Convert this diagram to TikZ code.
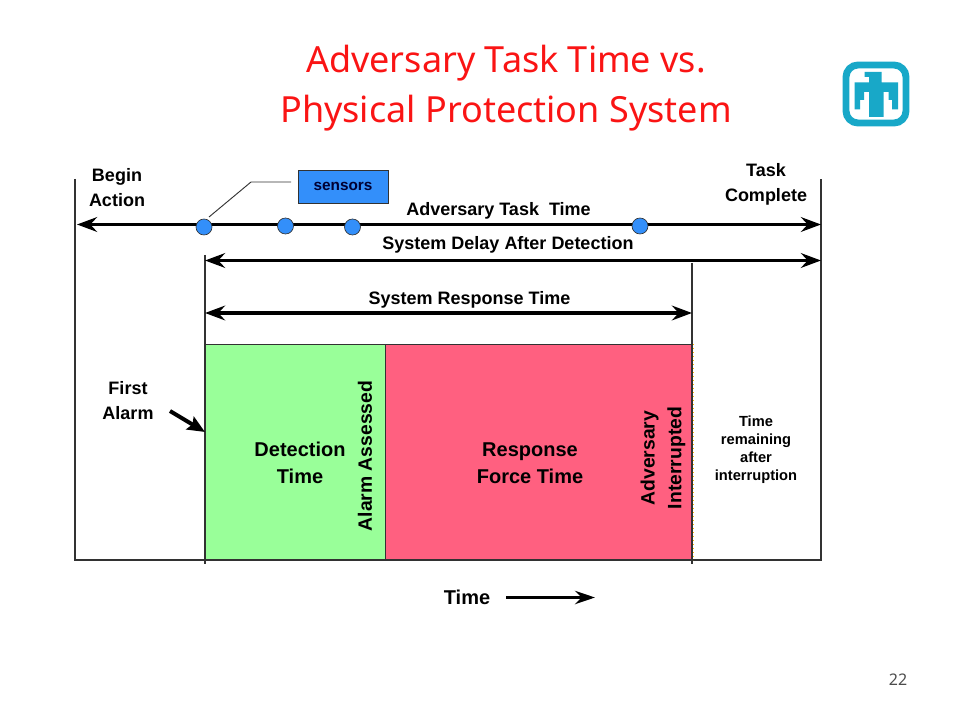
\documentclass[tikz,border=0pt]{standalone}
\usepackage{fontspec}
\setmainfont{Liberation Sans}
\newfontfamily\titlefont{Noto Sans}
\usetikzlibrary{arrows.meta}
\definecolor{titlered}{RGB}{250,20,20}
\definecolor{logoblue}{RGB}{24,168,200}
\definecolor{sensorblue}{RGB}{51,143,250}
\definecolor{greenfill}{RGB}{153,255,153}
\definecolor{redfill}{RGB}{255,96,128}
\definecolor{linegray}{RGB}{50,50,50}
\tikzset{
  x=0.75pt,y=-0.75pt,
  titletext/.style={font=\titlefont\fontsize{27}{37}\selectfont,text=titlered,align=center,inner sep=0pt},
  lab/.style={font=\fontsize{13.5}{19}\selectfont\bfseries,align=center,inner sep=0pt},
  bigarrow/.style={line width=2.6pt,{Stealth[length=15pt,width=11pt,inset=5pt]}-{Stealth[length=15pt,width=11pt,inset=5pt]}},
  guide/.style={draw=linegray,line width=0.9pt},
  dot/.style={circle,draw=linegray,line width=0.5pt,fill=sensorblue,minimum size=12pt,inner sep=0pt},
  zone/.style={draw=linegray,line width=0.9pt,inner sep=0pt,anchor=north west}
}
\begin{document}
\begin{tikzpicture}
\useasboundingbox (0,0) rectangle (960,720);
\node[titletext] (title) at (506,88) {Adversary Task Time vs.\\Physical Protection System};
% logo
\draw[draw=logoblue,line width=5.2pt,rounded corners=9pt,fill=white] (846,65) rectangle (906,123);
\fill[logoblue] (864.5,72) -- (881.5,72) -- (881.5,82.5) -- (898,82.5) -- (898,109.5) -- (892,109.5) -- (892,100) -- (888.5,100) -- (888.5,92) -- (883.5,92) -- (883.5,117) -- (869,117) -- (869,92) -- (864,92) -- (864,100) -- (860,100) -- (860,109.5) -- (854.5,109.5) -- (854.5,82.5) -- (869,82.5) -- (869,77) -- (864.5,77) -- cycle;
% zones
\node[zone,fill=greenfill,minimum width=180*0.75pt,minimum height=216*0.75pt] (det) at (205,344) {};
\node[zone,fill=redfill,minimum width=307*0.75pt,minimum height=216*0.75pt] (resp) at (385,344) {};
\coordinate (bl) at (75,560); \coordinate (br) at (821,560);
\coordinate (tl) at (75,179); \coordinate (tr) at (821,179);
\coordinate (m1t) at (205,255); \coordinate (m1b) at (205,564);
\coordinate (m2t) at (692,263); \coordinate (m2b) at (692,564);
\draw[guide] (tl) -- (bl) -- (br) -- (tr);
\draw[guide] (m1t) -- (m1b);
\draw[guide] (m2t) -- (m2b);
\draw[draw=orange!60!yellow,line width=1pt,dotted] (693.5,344) -- (693.5,560);
% arrows
\coordinate (a1l) at (77,224.5); \coordinate (a1r) at (821,224.5);
\coordinate (a2l) at (205,260.5); \coordinate (a2r) at (821,260.5);
\coordinate (a3l) at (205,313); \coordinate (a3r) at (692,313);
\draw[bigarrow] (a1l) -- (a1r);
\draw[bigarrow] (a2l) -- (a2r);
\draw[bigarrow] (a3l) -- (a3r);
% sensors
\node[dot] (s1) at (204,227) {};
\node[dot] (s2) at (285.5,226) {};
\node[dot] (s3) at (352.5,227) {};
\node[dot] (s4) at (640,226) {};
\node[draw=linegray,line width=0.7pt,fill=sensorblue,minimum width=90*0.75pt,minimum height=33*0.75pt,inner sep=0pt,font=\fontsize{11.5}{14}\selectfont\bfseries,text=black!80!blue] (sens) at (343,186.5) {sensors};
\coordinate (lk) at (251,182); \coordinate (lke) at (291,182);
\draw[linegray,line width=0.7pt] (s1) ++(5,-10) -- (lk) -- (lke);
% labels
\node[lab] (begin) at (117,187.5) {Begin\\Action};
\node[lab] (task) at (766,184.5) {Task\\Complete};
\node[lab] (att) at (498.5,210.5) {Adversary Task\ \ Time};
\node[lab] (sdd) at (508,244.5) {System Delay After Detection};
\node[lab] (srt) at (469.5,299.5) {System Response Time};
\node[lab] (first) at (128,400.5) {First\\Alarm};
\node[lab,font=\fontsize{15}{20}\selectfont\bfseries] (dt) at (300,463) {Detection\\Time};
\node[lab,font=\fontsize{15}{20}\selectfont\bfseries] (rt) at (530,463) {Response\\Force Time};
\node[lab,font=\fontsize{14.5}{20}\selectfont\bfseries,rotate=90] (aa) at (365,456) {Alarm Assessed};
\node[lab,font=\fontsize{14.5}{20}\selectfont\bfseries,rotate=90] (ai) at (663,458) {Adversary\\Interrupted};
\node[lab,font=\fontsize{11}{13.5}\selectfont\bfseries] (tr2) at (756,449.5) {Time\\remaining\\after\\interruption};
\node[lab,font=\fontsize{15}{20}\selectfont\bfseries] (time) at (467,597.5) {Time};
\coordinate (tarr) at (595,597.5);
\draw[line width=2.6pt,-{Stealth[length=15pt,width=10pt,inset=5pt]}] (506,597.5) -- (tarr);
\coordinate (faS) at (170,411);
\draw[line width=3pt,-{Stealth[length=13pt,width=11pt,inset=2pt]}] (faS) -- (m1t |- 0,432);
\node[inner sep=0pt,font=\titlefont\fontsize{12}{14}\selectfont,text=black!70] (pg) at (898,680) {22};
\end{tikzpicture}
\end{document}
